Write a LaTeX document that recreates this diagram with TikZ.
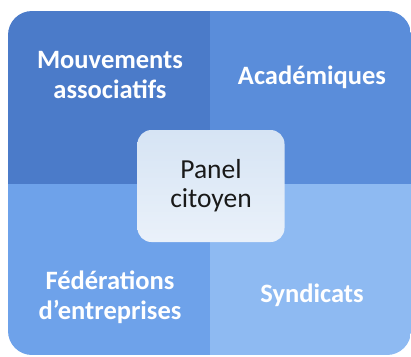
\documentclass[tikz,border=0pt]{standalone}
\usepackage{fontspec}
\setmainfont{Carlito}
\definecolor{quadtl}{HTML}{4B7BC9}
\definecolor{quadtr}{HTML}{5A8DDA}
\definecolor{quadbl}{HTML}{6EA2EA}
\definecolor{quadbr}{HTML}{8EBAF2}
\definecolor{paneltop}{HTML}{D6E4F4}
\definecolor{panelbot}{HTML}{EAF1FA}
\tikzset{
  quadlabel/.style={text=white,font=\fontsize{26.5}{30}\selectfont\bfseries,align=center},
  panelbox/.style={rounded corners=14pt,top color=paneltop,bottom color=panelbot,
    minimum width=147pt,minimum height=112pt,align=center,
    font=\fontsize{27.5}{29}\selectfont,text=black!90}
}
\begin{document}
\begin{tikzpicture}[x=1pt,y=-1pt]
\useasboundingbox (0,0) rectangle (411,356);
% four quadrants
\begin{scope}
\clip[rounded corners=24pt] (8,11) rectangle (411,355);
\fill[quadtl] (8,11) rectangle (210,184);
\fill[quadtr] (210,11) rectangle (411,184);
\fill[quadbl] (8,184) rectangle (210,355);
\fill[quadbr] (210,184) rectangle (411,355);
\end{scope}
\node[quadlabel] (mouvements) at (110,75) {Mouvements\\associatifs};
\node[quadlabel] (academiques) at (312,77) {Académiques};
\node[quadlabel] (federations) at (110,297) {Fédérations\\d'entreprises};
\node[quadlabel] (syndicats) at (312,295) {Syndicats};
% centre
\node[panelbox] (panel) at (211,186) {Panel\\citoyen};
\end{tikzpicture}
\end{document}
